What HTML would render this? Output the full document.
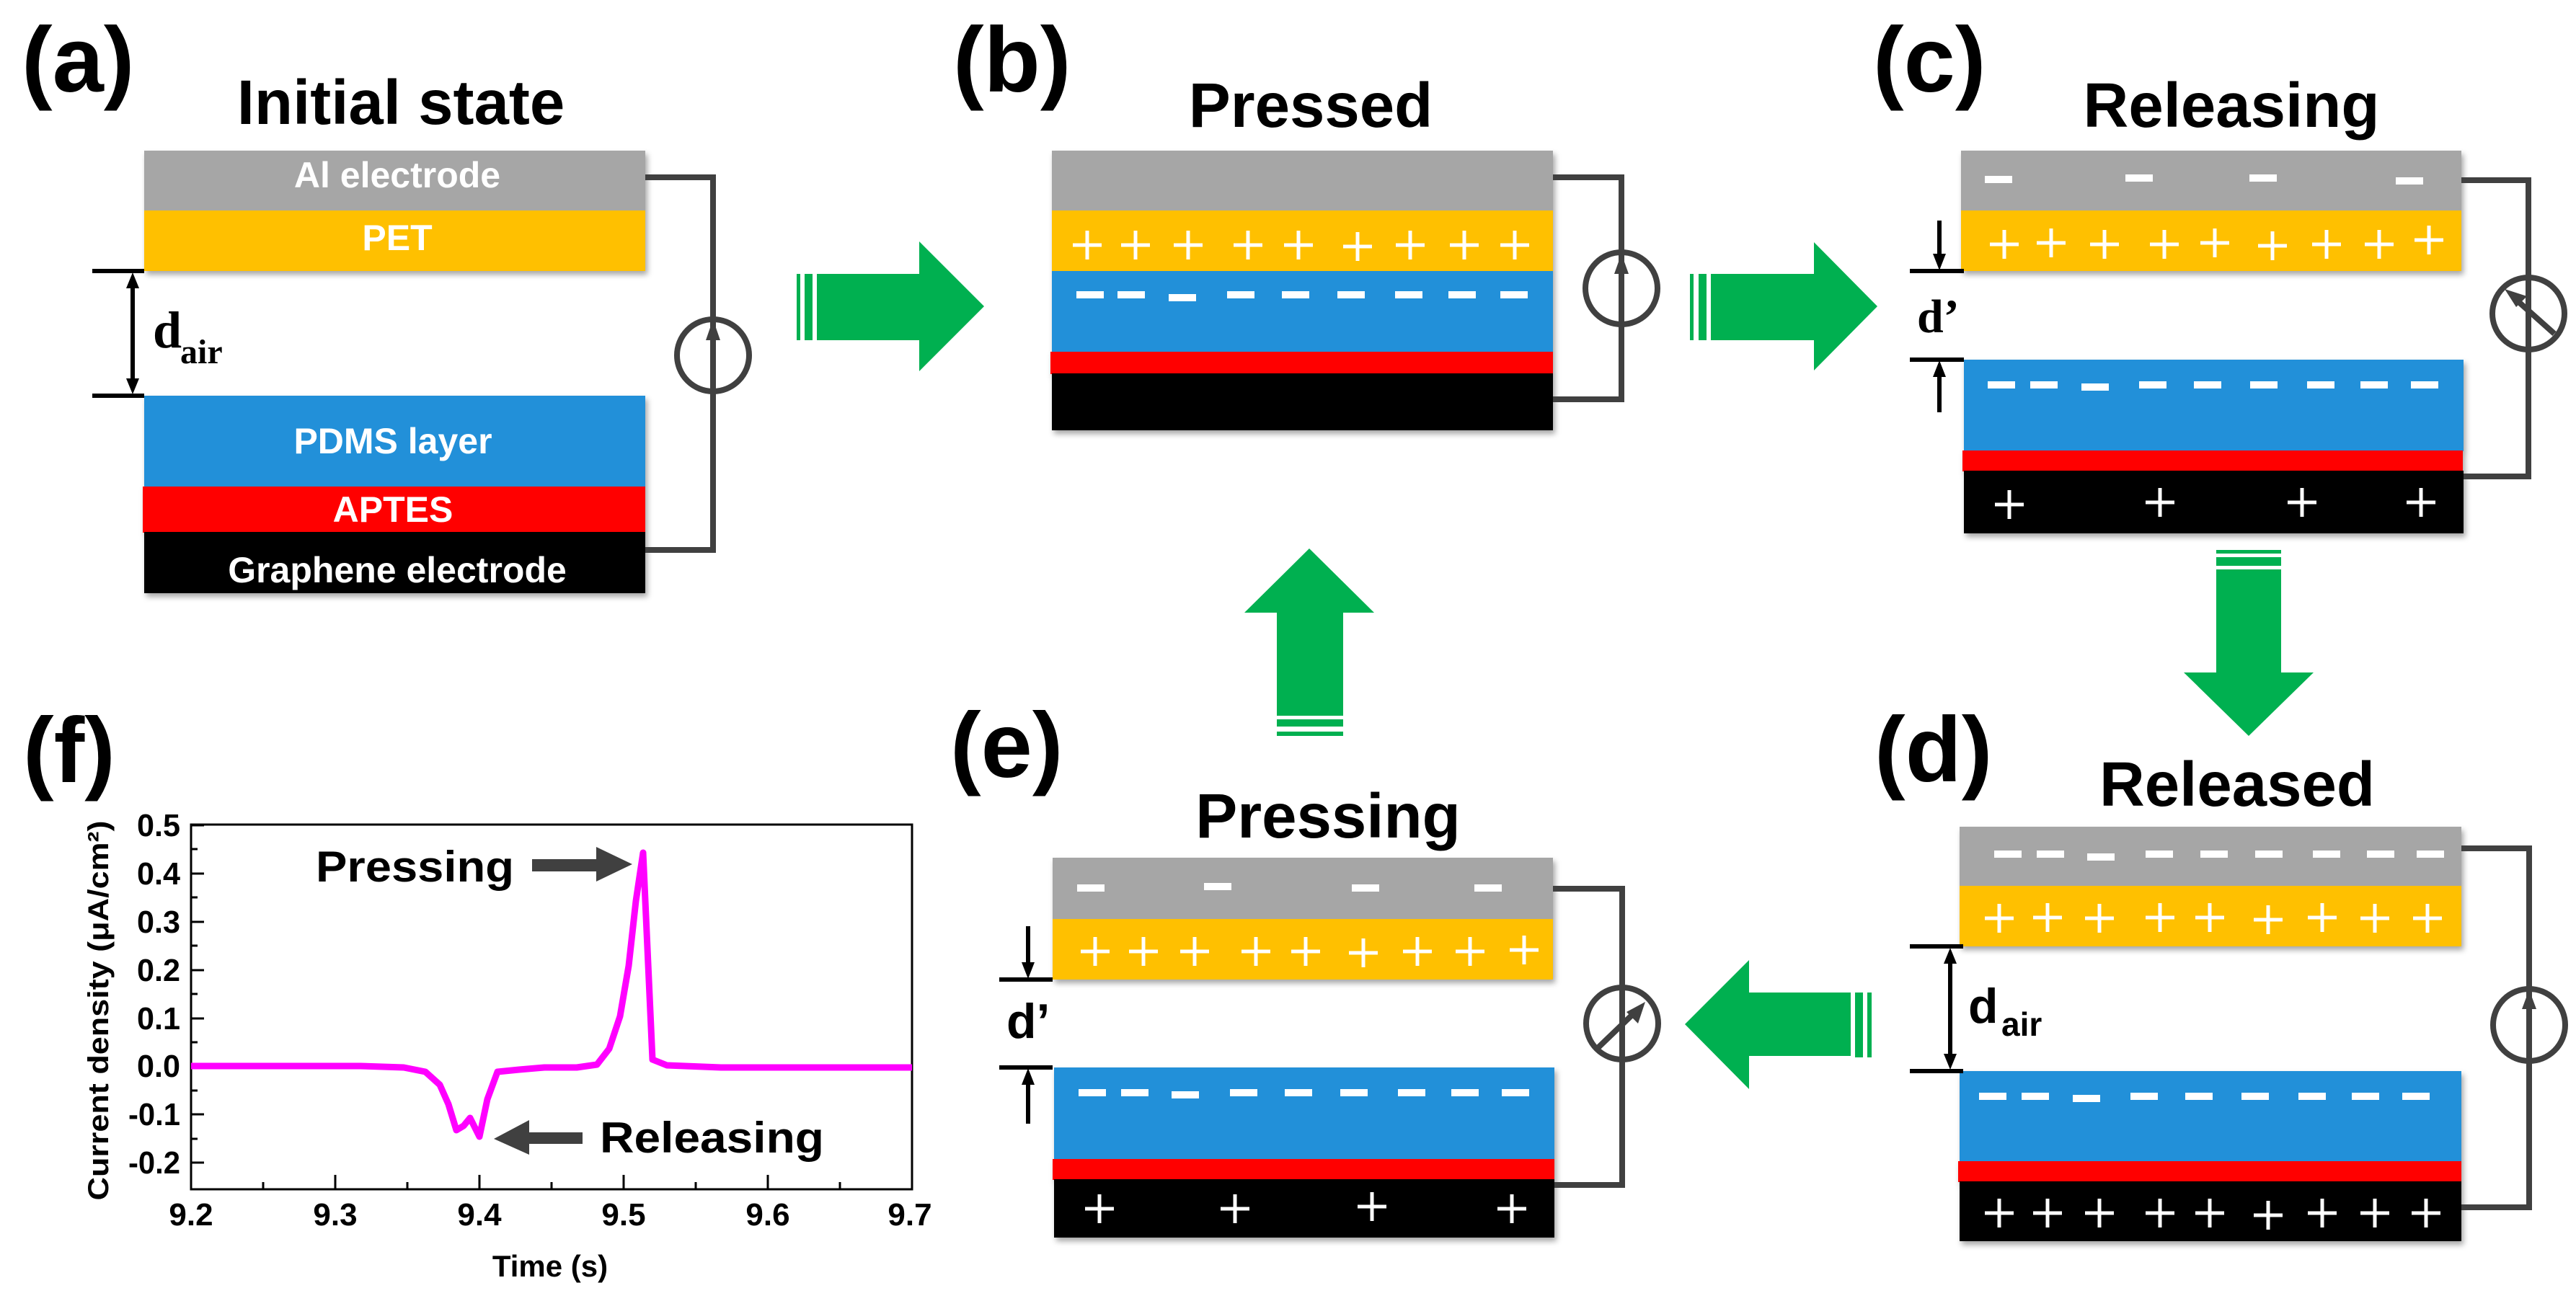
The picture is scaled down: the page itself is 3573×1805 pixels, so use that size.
<!DOCTYPE html>
<html><head><meta charset="utf-8"><style>html,body{margin:0;padding:0;background:#fff}svg{display:block}</style></head>
<body>
<svg width="3573" height="1805" viewBox="0 0 3573 1805" xmlns="http://www.w3.org/2000/svg" font-family="Liberation Sans, Arial, sans-serif" font-weight="bold">
<defs>
<g id="p"><path d="M-20 0H20M0 -20V20" stroke="#fff" stroke-width="5"/></g>
<g id="m"><rect x="-19" y="-5" width="38" height="10" fill="#fff"/></g>
<filter id="sh" x="-5%" y="-20%" width="110%" height="140%"><feDropShadow dx="3" dy="5" stdDeviation="4" flood-color="#000" flood-opacity="0.35"/></filter>
</defs>
<g fill="#000">
<text x="30" y="127" font-size="128">(a)</text>
<text x="1322" y="127" font-size="128">(b)</text>
<text x="2598" y="127" font-size="128">(c)</text>
<text x="2600" y="1084" font-size="128">(d)</text>
<text x="1318" y="1078" font-size="128">(e)</text>
<text x="32" y="1085" font-size="128">(f)</text>
<text x="556" y="172" font-size="87" text-anchor="middle">Initial state</text>
<text x="1818" y="176" font-size="87" text-anchor="middle">Pressed</text>
<text x="3095" y="176" font-size="87" text-anchor="middle">Releasing</text>
<text x="3103" y="1118" font-size="87" text-anchor="middle">Released</text>
<text x="1842" y="1162" font-size="87" text-anchor="middle">Pressing</text>
</g>

<!-- Panel a -->
<g filter="url(#sh)">
<rect x="200" y="209" width="695" height="84" fill="#A6A6A6"/>
<rect x="200" y="292" width="695" height="84" fill="#FFC000"/>
<rect x="200" y="549" width="695" height="127" fill="#2290D9"/>
<rect x="198" y="675" width="697" height="64" fill="#FF0000"/>
<rect x="200" y="738" width="695" height="85" fill="#000"/>
</g>
<g fill="#fff" font-size="50" text-anchor="middle">
<text x="551" y="260">Al electrode</text>
<text x="551" y="347">PET</text>
<text x="545" y="629">PDMS layer</text>
<text x="545" y="724">APTES</text>
<text x="551" y="808">Graphene electrode</text>
</g>
<g stroke="#404040" stroke-width="8" fill="none">
<path d="M895 246H989V763H895"/>
<circle cx="989" cy="493" r="50"/>
</g>
<path d="M989 443L979 472H999Z" fill="#404040"/>
<g stroke="#000" stroke-width="6"><path d="M128 376H200M128 549H200M184 385V540"/></g>
<path d="M184 378L175 400H193ZM184 547L175 525H193Z" fill="#000"/>
<text x="212" y="482" font-family="Liberation Serif, serif" font-size="72">d</text>
<text x="250" y="504" font-family="Liberation Serif, serif" font-size="48">air</text>

<!-- Arrows -->
<g fill="#00B050">
<rect x="1105" y="380" width="5" height="92"/><rect x="1116" y="380" width="11" height="92"/>
<path d="M1133 380H1275V335L1365 425L1275 515V472H1133Z"/>
<rect x="2344" y="380" width="5" height="92"/><rect x="2356" y="380" width="11" height="92"/>
<path d="M2373 380H2516V336L2604 425L2516 514V472H2373Z"/>
<rect x="3074" y="763" width="90" height="5"/><rect x="3074" y="773" width="90" height="12"/>
<path d="M3074 790V933H3029L3119 1021L3209 933H3164V790Z"/>
<rect x="2590" y="1377" width="6" height="90"/><rect x="2573" y="1377" width="11" height="90"/>
<path d="M2567 1377H2426V1332L2337 1421L2426 1511V1465H2567Z"/>
<rect x="1771" y="1015" width="92" height="6"/><rect x="1771" y="998" width="92" height="10"/>
<path d="M1771 993V850H1726L1816 761L1906 850H1863V993Z"/>
</g>

<!-- Panel b -->
<g filter="url(#sh)">
<rect x="1459" y="209" width="695" height="84" fill="#A6A6A6"/>
<rect x="1459" y="292" width="695" height="84" fill="#FFC000"/>
<rect x="1459" y="376" width="695" height="113" fill="#2290D9"/>
<rect x="1457" y="488" width="697" height="31" fill="#FF0000"/>
<rect x="1459" y="518" width="695" height="79" fill="#000"/>
</g>
<g stroke="#404040" stroke-width="8" fill="none">
<path d="M2154 246H2249V554H2154"/>
<circle cx="2249" cy="400" r="50"/>
</g>
<path d="M2249 352L2239 380H2259Z" fill="#404040"/>
<g>
<use href="#p" x="1508" y="340"/><use href="#p" x="1575" y="340"/><use href="#p" x="1648" y="340"/><use href="#p" x="1731" y="340"/><use href="#p" x="1801" y="340"/><use href="#p" x="1883" y="342"/><use href="#p" x="1956" y="340"/><use href="#p" x="2031" y="340"/><use href="#p" x="2101" y="340"/>
<use href="#m" x="1512" y="409"/><use href="#m" x="1569" y="409"/><use href="#m" x="1640" y="413"/><use href="#m" x="1721" y="409"/><use href="#m" x="1797" y="409"/><use href="#m" x="1874" y="409"/><use href="#m" x="1954" y="409"/><use href="#m" x="2028" y="409"/><use href="#m" x="2100" y="409"/>
</g>

<!-- Panel c -->
<g filter="url(#sh)">
<rect x="2720" y="209" width="694" height="84" fill="#A6A6A6"/>
<rect x="2720" y="292" width="694" height="84" fill="#FFC000"/>
<rect x="2724" y="499" width="693" height="127" fill="#2290D9"/>
<rect x="2722" y="625" width="694" height="29" fill="#FF0000"/>
<rect x="2724" y="653" width="693" height="87" fill="#000"/>
</g>
<g stroke="#404040" stroke-width="8" fill="none">
<path d="M3414 250H3507V661H3417"/>
<circle cx="3507" cy="435" r="50"/>
<path d="M3543 463L3488 414"/>
</g>
<path d="M3474 401L3505 411L3490 426Z" fill="#404040"/>
<g>
<use href="#m" x="2772" y="249"/><use href="#m" x="2967" y="247"/><use href="#m" x="3139" y="247"/><use href="#m" x="3342" y="251"/>
<use href="#p" x="2780" y="339"/><use href="#p" x="2845" y="337"/><use href="#p" x="2919" y="339"/><use href="#p" x="3002" y="339"/><use href="#p" x="3072" y="337"/><use href="#p" x="3152" y="341"/><use href="#p" x="3227" y="339"/><use href="#p" x="3300" y="339"/><use href="#p" x="3369" y="333"/>
<use href="#m" x="2776" y="534"/><use href="#m" x="2835" y="534"/><use href="#m" x="2906" y="537"/><use href="#m" x="2986" y="534"/><use href="#m" x="3062" y="534"/><use href="#m" x="3140" y="534"/><use href="#m" x="3219" y="534"/><use href="#m" x="3293" y="534"/><use href="#m" x="3363" y="534"/>
<use href="#p" x="2787" y="700"/><use href="#p" x="2996" y="697"/><use href="#p" x="3193" y="697"/><use href="#p" x="3358" y="697"/>
</g>
<g stroke="#000" stroke-width="6"><path d="M2649 376H2724M2649 499H2724M2690 306V360M2690 515V572"/></g>
<path d="M2690 375L2681 352H2699ZM2690 500L2681 523H2699Z" fill="#000"/>
<text x="2659" y="461" font-family="Liberation Serif, serif" font-size="66">d’</text>

<!-- Panel d -->
<g filter="url(#sh)">
<rect x="2718" y="1147" width="696" height="83" fill="#A6A6A6"/>
<rect x="2718" y="1229" width="696" height="84" fill="#FFC000"/>
<rect x="2718" y="1486" width="696" height="126" fill="#2290D9"/>
<rect x="2716" y="1611" width="698" height="29" fill="#FF0000"/>
<rect x="2718" y="1639" width="696" height="83" fill="#000"/>
</g>
<g stroke="#404040" stroke-width="8" fill="none">
<path d="M3414 1177H3508V1675H3414"/>
<circle cx="3508" cy="1422" r="50"/>
</g>
<path d="M3508 1373L3498 1400H3518Z" fill="#404040"/>
<g>
<use href="#m" x="2785" y="1185"/><use href="#m" x="2844" y="1185"/><use href="#m" x="2914" y="1189"/><use href="#m" x="2995" y="1185"/><use href="#m" x="3071" y="1185"/><use href="#m" x="3147" y="1185"/><use href="#m" x="3227" y="1185"/><use href="#m" x="3302" y="1185"/><use href="#m" x="3371" y="1185"/>
<use href="#p" x="2773" y="1274"/><use href="#p" x="2840" y="1273"/><use href="#p" x="2912" y="1274"/><use href="#p" x="2996" y="1273"/><use href="#p" x="3065" y="1273"/><use href="#p" x="3146" y="1276"/><use href="#p" x="3221" y="1273"/><use href="#p" x="3294" y="1274"/><use href="#p" x="3367" y="1274"/>
<use href="#m" x="2764" y="1521"/><use href="#m" x="2823" y="1521"/><use href="#m" x="2894" y="1524"/><use href="#m" x="2974" y="1521"/><use href="#m" x="3050" y="1521"/><use href="#m" x="3128" y="1521"/><use href="#m" x="3207" y="1521"/><use href="#m" x="3281" y="1521"/><use href="#m" x="3351" y="1521"/>
<use href="#p" x="2773" y="1683"/><use href="#p" x="2840" y="1683"/><use href="#p" x="2912" y="1683"/><use href="#p" x="2996" y="1683"/><use href="#p" x="3065" y="1683"/><use href="#p" x="3146" y="1686"/><use href="#p" x="3221" y="1683"/><use href="#p" x="3294" y="1683"/><use href="#p" x="3365" y="1683"/>
</g>
<g stroke="#000" stroke-width="6"><path d="M2649 1313H2723M2649 1486H2723M2705 1322V1477"/></g>
<path d="M2705 1315L2696 1337H2714ZM2705 1484L2696 1462H2714Z" fill="#000"/>
<text x="2730" y="1419" font-size="68">d</text>
<text x="2776" y="1437" font-size="46">air</text>

<!-- Panel e -->
<g filter="url(#sh)">
<rect x="1460" y="1190" width="694" height="86" fill="#A6A6A6"/>
<rect x="1460" y="1275" width="694" height="84" fill="#FFC000"/>
<rect x="1462" y="1481" width="694" height="128" fill="#2290D9"/>
<rect x="1460" y="1608" width="696" height="29" fill="#FF0000"/>
<rect x="1462" y="1636" width="694" height="81" fill="#000"/>
</g>
<g stroke="#404040" stroke-width="8" fill="none">
<path d="M2154 1233H2250V1644H2156"/>
<circle cx="2250" cy="1420" r="50"/>
<path d="M2214 1456L2267 1405"/>
</g>
<path d="M2282 1390L2272 1420L2256 1404Z" fill="#404040"/>
<g>
<use href="#m" x="1513" y="1232"/><use href="#m" x="1689" y="1230"/><use href="#m" x="1894" y="1232"/><use href="#m" x="2064" y="1232"/>
<use href="#p" x="1519" y="1320"/><use href="#p" x="1586" y="1320"/><use href="#p" x="1657" y="1320"/><use href="#p" x="1742" y="1320"/><use href="#p" x="1811" y="1320"/><use href="#p" x="1891" y="1322"/><use href="#p" x="1966" y="1320"/><use href="#p" x="2039" y="1320"/><use href="#p" x="2114" y="1318"/>
<use href="#m" x="1515" y="1516"/><use href="#m" x="1574" y="1516"/><use href="#m" x="1644" y="1519"/><use href="#m" x="1725" y="1516"/><use href="#m" x="1801" y="1516"/><use href="#m" x="1878" y="1516"/><use href="#m" x="1958" y="1516"/><use href="#m" x="2032" y="1516"/><use href="#m" x="2102" y="1516"/>
<use href="#p" x="1525" y="1677"/><use href="#p" x="1713" y="1677"/><use href="#p" x="1903" y="1674"/><use href="#p" x="2097" y="1677"/>
</g>
<g stroke="#000" stroke-width="6"><path d="M1386 1359H1460M1386 1481H1460M1426 1285V1340M1426 1500V1559"/></g>
<path d="M1426 1358L1417 1335H1435ZM1426 1482L1417 1505H1435Z" fill="#000"/>
<text x="1396" y="1440" font-size="68">d’</text>

<!-- Panel f plot -->
<rect x="265" y="1144" width="1000" height="506" fill="none" stroke="#000" stroke-width="3"/>
<g stroke="#000" stroke-width="3">
<path d="M265 1650V1630M365 1650V1640M465 1650V1630M565 1650V1640M665 1650V1630M765 1650V1640M865 1650V1630M965 1650V1640M1065 1650V1630M1165 1650V1640"/>
<path d="M265 1145H283M265 1178H274M265 1212H283M265 1245H274M265 1279H283M265 1312H274M265 1346H283M265 1379H274M265 1413H283M265 1446H274M265 1479H283M265 1513H274M265 1546H283M265 1580H274M265 1613H283"/>
</g>
<g font-size="44" text-anchor="end">
<text x="250" y="1160" textLength="60" lengthAdjust="spacingAndGlyphs">0.5</text>
<text x="250" y="1227" textLength="60" lengthAdjust="spacingAndGlyphs">0.4</text>
<text x="250" y="1294" textLength="60" lengthAdjust="spacingAndGlyphs">0.3</text>
<text x="250" y="1361" textLength="60" lengthAdjust="spacingAndGlyphs">0.2</text>
<text x="250" y="1428" textLength="60" lengthAdjust="spacingAndGlyphs">0.1</text>
<text x="250" y="1494" textLength="60" lengthAdjust="spacingAndGlyphs">0.0</text>
<text x="250" y="1561" textLength="72" lengthAdjust="spacingAndGlyphs">-0.1</text>
<text x="250" y="1628" textLength="72" lengthAdjust="spacingAndGlyphs">-0.2</text>
</g>
<g font-size="44" text-anchor="middle">
<text x="265" y="1700">9.2</text><text x="465" y="1700">9.3</text><text x="665" y="1700">9.4</text><text x="865" y="1700">9.5</text><text x="1065" y="1700">9.6</text><text x="1262" y="1700">9.7</text>
<text x="763" y="1771" font-size="42">Time (s)</text>
</g>
<text transform="translate(150 1402) rotate(-90)" font-size="40" text-anchor="middle" textLength="527" lengthAdjust="spacingAndGlyphs">Current density (μA/cm²)</text>
<polyline fill="none" stroke="#FF00FF" stroke-width="9" stroke-linejoin="round" points="265,1479 500,1479 560,1481 590,1487 610,1505 622,1532 633,1568 643,1562 652,1551 665,1577 676,1525 690,1487 720,1484 755,1481 800,1481 828,1477 845,1455 860,1410 872,1340 882,1250 892,1183 905,1470 925,1478 1000,1481 1265,1481"/>
<text x="438" y="1223" font-size="60" textLength="275" lengthAdjust="spacingAndGlyphs">Pressing</text>
<path d="M738 1192H827V1175L877 1199L827 1223V1209H738Z" fill="#404040"/>
<text x="832" y="1599" font-size="60" textLength="311" lengthAdjust="spacingAndGlyphs">Releasing</text>
<path d="M808 1571H734V1554L685 1580L734 1602V1587H808Z" fill="#404040"/>
</svg>
</body></html>
